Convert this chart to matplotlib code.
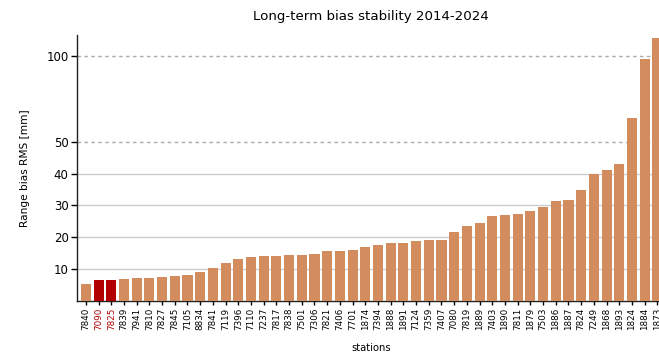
import matplotlib
matplotlib.use('Agg')
import matplotlib.pyplot as plt

stations = ['7840', '7090', '7825', '7839', '7941', '7810', '7827', '7845', '7105', '8834',
            '7841', '7119', '7396', '7110', '7237', '7817', '7838', '7501', '7306', '7821',
            '7406', '7701', '1874', '7394', '1888', '1891', '7124', '7359', '7407', '7080',
            '7819', '1889', '7403', '1890', '7811', '1879', '7503', '1886', '1887', '7824',
            '7249', '1868', '1893', '1824', '1884', '1873']
rms = [5.4, 6.5, 6.5, 6.9, 7.0, 7.2, 7.6, 7.8, 8.2, 9.0,
       10.3, 11.9, 13.0, 13.9, 14.1, 14.2, 14.4, 14.5, 14.7, 15.5,
       15.6, 15.8, 16.9, 17.6, 18.2, 18.3, 18.8, 19.0, 19.2, 21.5,
       23.4, 24.3, 26.7, 26.9, 27.2, 28.1, 29.5, 31.5, 31.8, 34.9,
       40.0, 41.0, 43.1, 60.5, 97.3, 115.4]
highlight = ['7090', '7825']

base_color = '#d38c5e'
hl_color = '#b20000'

fig = plt.figure(figsize=(6.59, 3.53), dpi=100)
ax = fig.add_axes([77 / 659, 52.3 / 353, 588 / 659, 265.7 / 353])

colors = [hl_color if s in highlight else base_color for s in stations]
x = range(len(stations))
ax.bar(x, rms, width=0.8, color=colors, zorder=3)

# linear up to 50 mm, log above
ax.set_yscale('symlog', linthresh=50, linscale=0.5)
ax.set_ylim(0, 118)
ax.set_xlim(-0.7, 45.6)

ax.set_yticks([10, 20, 30, 40, 50, 100])
ax.set_yticklabels(['10', '20', '30', '40', '50', '100'])
ax.yaxis.set_minor_locator(matplotlib.ticker.NullLocator())
for v in [10, 20, 30, 40]:
    ax.axhline(v, color='#cccccc', lw=1.0, zorder=1)
for v in [50, 100]:
    ax.axhline(v, color='#aaaaaa', lw=1.0, ls=(0, (2.5, 2.5)), zorder=1)

ax.set_xticks(list(x))
ax.set_xticklabels(stations, rotation=90, fontsize=6.3)
for lbl in ax.get_xticklabels():
    if lbl.get_text() in highlight:
        lbl.set_color(hl_color)
ax.tick_params(axis='x', length=3, width=1, pad=2)
ax.tick_params(axis='y', length=4, width=1, labelsize=8.5, pad=2)

for side in ['top', 'right']:
    ax.spines[side].set_visible(False)
for side in ['left', 'bottom']:
    ax.spines[side].set_linewidth(1.0)
    ax.spines[side].set_color('#222222')

ax.set_title('Long-term bias stability 2014-2024', fontsize=9.6, pad=11)
ax.set_ylabel('Range bias RMS [mm]', fontsize=7.6, labelpad=12)
ax.set_xlabel('stations', fontsize=7.2, labelpad=9)

fig.savefig('out.png', dpi=100)
